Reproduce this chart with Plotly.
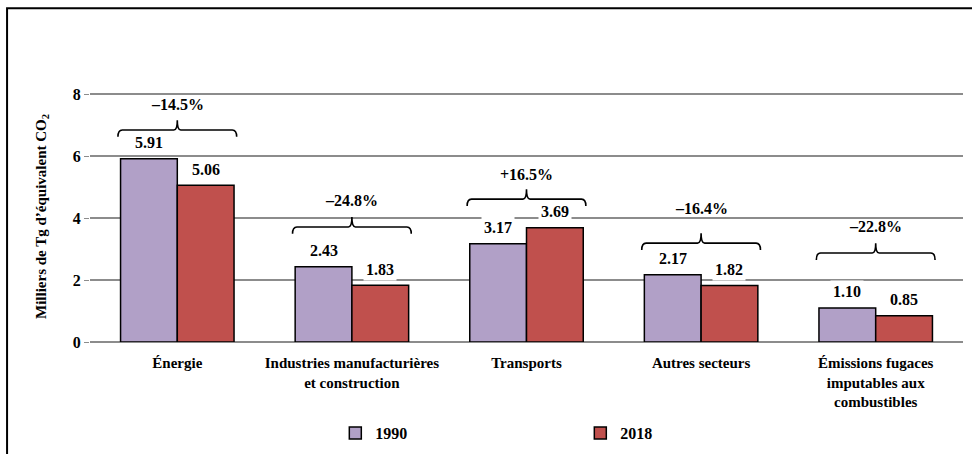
import plotly.graph_objects as go

# --- données ---
categories = [
    "Énergie",
    "Industries manufacturières<br>et construction",
    "Transports",
    "Autres secteurs",
    "Émissions fugaces<br>imputables aux<br>combustibles",
]
values_1990 = [5.91, 2.43, 3.17, 2.17, 1.10]
values_2018 = [5.06, 1.83, 3.69, 1.82, 0.85]
changes = ["–14.5%", "–24.8%", "+16.5%", "–16.4%", "–22.8%"]

# niveaux des accolades et des étiquettes de variation
brace_levels = [6.84, 3.71, 4.61, 3.19, 2.87]
change_label_y = [7.65, 4.58, 5.42, 4.32, 3.74]

FONT = "Liberation Serif, Times New Roman, serif"
C1990 = "#B1A0C7"
C2018 = "#C0504D"

x = list(range(len(categories)))

fig = go.Figure()
fig.add_trace(go.Bar(x=x, y=values_1990, name="1990", marker=dict(color=C1990, line=dict(color="black", width=1.5))))
fig.add_trace(go.Bar(x=x, y=values_2018, name="2018", marker=dict(color=C2018, line=dict(color="black", width=1.5))))

half = 0.1625  # décalage du centre des barres dans un groupe
for i in x:
    for v, dx in ((values_1990[i], -half), (values_2018[i], half)):
        fig.add_annotation(x=i + dx, y=v, text=f"{v:.2f}", showarrow=False, yshift=16,
                           bgcolor="white", borderpad=2, font=dict(size=16))

    # accolade
    yh = brace_levels[i]
    x0, x1 = i - 0.34, i + 0.34
    path = (f"M {x0},{yh - 0.22} Q {x0},{yh} {x0 + 0.025},{yh} "
            f"L {i - 0.02},{yh} Q {i},{yh} {i},{yh + 0.32} "
            f"Q {i},{yh} {i + 0.02},{yh} "
            f"L {x1 - 0.025},{yh} Q {x1},{yh} {x1},{yh - 0.22}")
    fig.add_shape(type="path", path=path, xref="x", yref="y", line=dict(color="black", width=1.6))
    fig.add_annotation(x=i, y=change_label_y[i], text=changes[i], showarrow=False, font=dict(size=16))

# cadre extérieur
fig.add_shape(type="rect", xref="paper", yref="paper", x0=-0.095, x1=1.2, y0=-2, y1=1.33,
              line=dict(color="black", width=2), layer="above")

fig.update_layout(
    width=972, height=454,
    margin=dict(l=90, r=9, t=91, b=112, autoexpand=False),
    paper_bgcolor="white", plot_bgcolor="white",
    font=dict(family=FONT, size=15, color="black", weight="bold"),
    barmode="group", bargap=0.35, bargroupgap=0,
    legend=dict(orientation="h", xref="paper", yref="container", x=0.281, y=0.046,
                xanchor="left", yanchor="middle",
                entrywidth=200, font=dict(size=16), itemwidth=30),
    showlegend=True,
)
fig.update_xaxes(range=[-0.5, 4.5], tickvals=x, ticktext=categories, showgrid=False,
                 showline=False, ticks="", tickfont=dict(size=15), zeroline=False,
                 ticklabelstandoff=10)
fig.update_yaxes(range=[0, 8.1], tickvals=[0, 2, 4, 6, 8], showgrid=True, gridcolor="#8C8C8C", gridwidth=1.5,
                 zeroline=True, zerolinecolor="#8C8C8C", zerolinewidth=1.5,
                 ticks="outside", ticklen=5, tickcolor="#8C8C8C", showline=False,
                 tickfont=dict(size=16),
                 title=dict(text="Milliers de Tg d’équivalent CO<sub>2</sub>", font=dict(size=15), standoff=22))

# la page ne doit pas décaler la figure de la marge par défaut du body
fig.write_html("out.html", config={"displayModeBar": False},
               post_script="document.body.style.margin='0';")
